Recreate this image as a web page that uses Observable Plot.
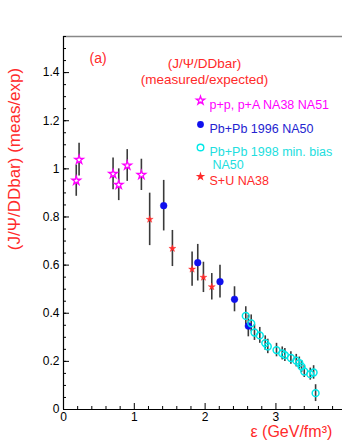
<!DOCTYPE html>
<html><head><meta charset="utf-8">
<script src="https://cdn.jsdelivr.net/npm/d3@7"></script>
<script src="https://cdn.jsdelivr.net/npm/@observablehq/plot@0.6"></script>
<style>
html,body{margin:0;padding:0;background:#fff;overflow:hidden;}
[aria-label="ylab"] text{letter-spacing:3.2px;}
[aria-label="xlab"] text{letter-spacing:2px;}
[aria-label="title"] text{letter-spacing:1.3px;}
[aria-label="tag"] text{letter-spacing:1px;}
</style>
</head><body><div id="chart"></div>
<script>
// p+p, p+A NA38 NA51
const ppX = [0.18, 0.22, 0.70, 0.78, 0.90, 1.10];
const ppY = [0.951, 1.038, 0.979, 0.934, 1.014, 0.975];
const ppErr = [0.065, 0.068, 0.066, 0.066, 0.066, 0.065];
// Pb+Pb 1996 NA50
const pb96X = [1.415, 1.896, 2.21, 2.415, 2.61];
const pb96Y = [0.847, 0.61, 0.531, 0.458, 0.347];
const pb96Err = [0.105, 0.076, 0.068, 0.052, 0.045];
// Pb+Pb 1998 min. bias NA50
const pb98X = [2.574, 2.651, 2.697, 2.772, 2.849, 2.885, 3.008, 3.089, 3.126, 3.211, 3.287, 3.330, 3.362, 3.400, 3.485, 3.532, 3.560];
const pb98Y = [0.389, 0.358, 0.320, 0.308, 0.276, 0.262, 0.247, 0.233, 0.226, 0.214, 0.203, 0.193, 0.178, 0.158, 0.147, 0.154, 0.068];
const pb98Err = [0.038, 0.035, 0.033, 0.033, 0.030, 0.030, 0.028, 0.027, 0.027, 0.026, 0.026, 0.025, 0.025, 0.025, 0.025, 0.028, 0.035];
// S+U NA38
const suX = [1.217, 1.538, 1.816, 1.976, 2.094];
const suY = [0.790, 0.669, 0.583, 0.549, 0.510];
const suErr = [0.109, 0.075, 0.071, 0.063, 0.055];

const xMajor = [0, 1, 2, 3];
const xMinor = [0.2,0.4,0.6,0.8,1.2,1.4,1.6,1.8,2.2,2.4,2.6,2.8,3.2,3.4,3.6,3.8];
const yMajor = [0, 0.2, 0.4, 0.6, 0.8, 1, 1.2, 1.4];
const yMinor = d3.range(0, 1.551, 0.05);
const xMax = 3.94, yMax = 1.55;

const titleLines = ["(J/\u03A8/DDbar)", "(measured/expected)"];
const panelTag = "(a)";
const legendLabels = ["p+p, p+A NA38 NA51", "Pb+Pb 1996 NA50", "Pb+Pb 1998 min. bias", "NA50", "S+U NA38"];
const yLabel = "(J/\u03A8/DDbar) (meas/exp)";
const xLabel = "\u03B5 (GeV/fm\u00B3)";

const mk = (X, Y, E) => X.map((x, i) => ({x, y: Y[i], e: E[i]}));
const pp = mk(ppX, ppY, ppErr), pb96 = mk(pb96X, pb96Y, pb96Err), pb98 = mk(pb98X, pb98Y, pb98Err), su = mk(suX, suY, suErr);
const all = [...pp, ...pb96, ...pb98, ...su];

const RED = "#ff2a2a", MAG = "#ff00ff", BLUE = "#1010ee", CYAN = "#00e8e8";
const font = "Liberation Sans, Arial, Helvetica, sans-serif";

const plot = Plot.plot({
  width: 342, height: 443,
  marginTop: 36, marginBottom: 34, marginLeft: 63, marginRight: 0,
  x: {domain: [0, xMax]},
  y: {domain: [0, yMax]},
  style: {background: "white", fontFamily: font, color: "black", overflow: "visible"},
  marks: [
    // frame
    Plot.ruleY([yMax], {stroke: "#888", strokeWidth: 1.5}),
    Plot.ruleX([0], {stroke: "black", strokeWidth: 1.2}),
    Plot.ruleY([0], {stroke: "black", strokeWidth: 1.2}),
    // axes
    Plot.axisX({ticks: xMajor, tickSize: -6, tickFormat: () => "", label: null}),
    Plot.axisX({ticks: xMinor, tickSize: -3, tickFormat: () => "", label: null}),
    Plot.axisX({ticks: xMajor, tickSize: 0, tickPadding: 2.5, fontSize: 12, label: null, tickFormat: d => String(d)}),
    Plot.axisY({ticks: yMajor, tickSize: -6, tickFormat: () => "", label: null}),
    Plot.axisY({ticks: yMinor, tickSize: -3, tickFormat: () => "", label: null}),
    Plot.axisY({ticks: yMajor, tickSize: 0, tickPadding: 4, fontSize: 12, label: null, tickFormat: d => String(d)}),
    // error bars
    Plot.ruleX(all, {x: "x", y1: d => d.y - d.e, y2: d => d.y + d.e, stroke: "#3a3a3a", strokeWidth: 1.6}),
    // points
    Plot.dot(pp, {x: "x", y: "y", symbol: "star", r: 2.7, stroke: MAG, strokeWidth: 1.3, fill: "white"}),
    Plot.dot(su, {x: "x", y: "y", symbol: "star", r: 2.2, fill: RED, stroke: RED, strokeWidth: 0.4}),
    Plot.dot(pb96, {x: "x", y: "y", r: 3.4, fill: BLUE, stroke: BLUE, strokeWidth: 0.4}),
    Plot.dot(pb98, {x: "x", y: "y", r: 3.4, fill: "none", stroke: CYAN, strokeWidth: 1.5}),
    // titles
    Plot.text([panelTag], {text: d => d, frameAnchor: "top-left", dx: 26, dy: 17, fill: RED, fontSize: 14, fontFamily: font, ariaLabel: "tag"}),
    Plot.text([titleLines[0]], {text: d => d, frameAnchor: "top-left", dx: 141, dy: 22, fill: RED, fontSize: 13.5, fontFamily: font, textAnchor: "middle", ariaLabel: "title"}),
    Plot.text([titleLines[1]], {text: d => d, frameAnchor: "top-left", dx: 141, dy: 37.5, fill: RED, fontSize: 13.5, fontFamily: font, textAnchor: "middle", ariaLabel: "title"}),
    // legend
    Plot.dot([0], {frameAnchor: "top-left", dx: 137, dy: 64, symbol: "star", r: 2.6, stroke: MAG, strokeWidth: 1.3, fill: "white"}),
    Plot.dot([0], {frameAnchor: "top-left", dx: 137, dy: 88, r: 3.4, fill: BLUE}),
    Plot.dot([0], {frameAnchor: "top-left", dx: 137, dy: 111, r: 3.3, fill: "none", stroke: CYAN, strokeWidth: 1.4}),
    Plot.dot([0], {frameAnchor: "top-left", dx: 137, dy: 140, symbol: "star", r: 3, fill: RED}),
    Plot.text([legendLabels[0]], {text: d => d, frameAnchor: "top-left", dx: 146, dy: 64, textAnchor: "start", fill: MAG, fontSize: 12.5, fontFamily: font}),
    Plot.text([legendLabels[1]], {text: d => d, frameAnchor: "top-left", dx: 146, dy: 88, textAnchor: "start", fill: "#2424d0", fontSize: 12.5, fontFamily: font}),
    Plot.text([legendLabels[2]], {text: d => d, frameAnchor: "top-left", dx: 146, dy: 111, textAnchor: "start", fill: "#22dede", fontSize: 12.5, fontFamily: font}),
    Plot.text([legendLabels[3]], {text: d => d, frameAnchor: "top-left", dx: 149, dy: 124, textAnchor: "start", fill: "#22dede", fontSize: 12.5, fontFamily: font}),
    Plot.text([legendLabels[4]], {text: d => d, frameAnchor: "top-left", dx: 146, dy: 140, textAnchor: "start", fill: RED, fontSize: 12.5, fontFamily: font}),
    // axis labels
    Plot.text([yLabel], {text: d => d, frameAnchor: "left", dx: -49, dy: -64, rotate: -90, textAnchor: "middle", fill: RED, fontSize: 17, fontFamily: font, ariaLabel: "ylab"}),
    Plot.text([xLabel], {text: d => d, frameAnchor: "bottom-left", dx: 187, dy: 27.5, textAnchor: "start", fill: RED, fontSize: 16, fontFamily: font, ariaLabel: "xlab"})
  ]
});
document.getElementById("chart").append(plot);
</script>
</body></html>
